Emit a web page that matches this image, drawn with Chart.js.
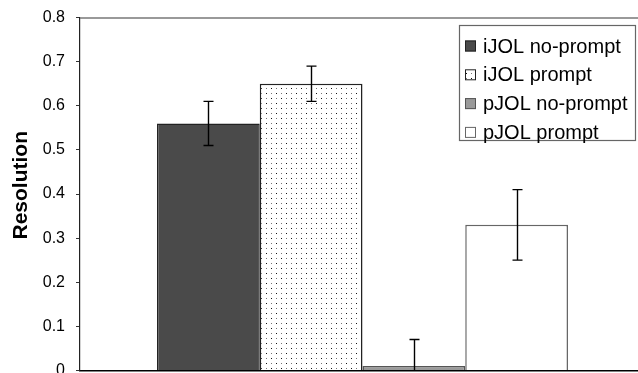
<!DOCTYPE html>
<html>
<head>
<meta charset="utf-8">
<script src="https://cdn.jsdelivr.net/npm/chart.js@4/dist/chart.umd.min.js"></script>
<style>
  html, body { margin: 0; padding: 0; background: #fff; overflow: hidden; }
  #wrap { position: absolute; left: 0; top: -3px; }
</style>
</head>
<body>
<div id="wrap"><canvas id="c" width="650" height="394"></canvas></div>
<script>
// Conditions and their mean resolution with error-bar half-widths
const conditions = ['iJOL no-prompt', 'iJOL prompt', 'pJOL no-prompt', 'pJOL prompt'];
const resolution = [0.56, 0.65, 0.01, 0.33];
const errors = [0.05, 0.04, 0.06, 0.08];
const yTickLabels = ['0', '0.1', '0.2', '0.3', '0.4', '0.5', '0.6', '0.7', '0.8'];

const FONT = '"Liberation Sans", Arial, Helvetica, sans-serif';

// Small dotted fill used for the "iJOL prompt" bar
function dotPattern() {
  const t = document.createElement('canvas');
  t.width = 10; t.height = 10;
  const g = t.getContext('2d');
  g.fillStyle = '#fff';
  g.fillRect(0, 0, 10, 10);
  g.fillStyle = '#111';
  g.fillRect(1, 1, 1, 1);
  g.fillRect(6, 6, 1, 1);
  g.fillStyle = '#777';
  g.fillRect(6, 1, 1, 1);
  g.fillRect(1, 6, 1, 1);
  return document.getElementById('c').getContext('2d').createPattern(t, 'repeat');
}

const fills = ['#4a4a4a', dotPattern(), '#9a9a9a', '#ffffff'];
const borders = ['#222222', '#222222', '#555555', '#666666'];

const datasets = conditions.map((name, i) => ({
  label: name,
  data: [resolution[i]],
  errors: [errors[i]],
  backgroundColor: fills[i],
  borderColor: borders[i],
  borderWidth: 1.5,
  borderSkipped: 'bottom',
  barPercentage: 1.0,
  categoryPercentage: 0.7274
}));

// Error bars with short caps, clipped to the plot area
const errorBars = {
  id: 'errorBars',
  afterDatasetsDraw(chart) {
    const ctx = chart.ctx, y = chart.scales.y, area = chart.chartArea;
    ctx.save();
    ctx.beginPath();
    ctx.rect(area.left, area.top, area.right - area.left, area.bottom - area.top);
    ctx.clip();
    ctx.strokeStyle = '#000';
    ctx.lineWidth = 1.4;
    chart.data.datasets.forEach((ds, i) => {
      const meta = chart.getDatasetMeta(i);
      meta.data.forEach((bar, j) => {
        const v = ds.data[j], e = ds.errors[j];
        const yt = y.getPixelForValue(v + e), yb = y.getPixelForValue(v - e);
        const x = Math.round(bar.x) + 0.5, cap = 5;
        ctx.beginPath();
        ctx.moveTo(x, yt); ctx.lineTo(x, yb);
        ctx.moveTo(x - cap, yt); ctx.lineTo(x + cap, yt);
        ctx.moveTo(x - cap, yb); ctx.lineTo(x + cap, yb);
        ctx.stroke();
      });
    });
    ctx.restore();
  }
};

// Top frame line of the plot area
const topFrame = {
  id: 'topFrame',
  afterDraw(chart) {
    const ctx = chart.ctx, a = chart.chartArea;
    ctx.save();
    ctx.strokeStyle = '#777';
    ctx.lineWidth = 1.5;
    ctx.beginPath();
    ctx.moveTo(a.left, a.top + 0.5);
    ctx.lineTo(chart.width, a.top + 0.5);
    ctx.stroke();
    ctx.restore();
  }
};

// Boxed legend in the upper right of the plot (positions follow the plot's top edge)
const boxLegend = {
  id: 'boxLegend',
  afterDraw(chart) {
    const ctx = chart.ctx;
    const top = chart.chartArea.top;
    const bx = 459.5, by = Math.round(top) + 7.5, bw = 176, bh = 115;
    ctx.save();
    ctx.fillStyle = '#fff';
    ctx.fillRect(bx, by, bw, bh);
    ctx.strokeStyle = '#666';
    ctx.lineWidth = 1.2;
    ctx.strokeRect(bx, by, bw, bh);
    ctx.font = '20px ' + FONT;
    ctx.textBaseline = 'middle';
    ctx.textAlign = 'left';
    chart.data.datasets.forEach((ds, i) => {
      const cy = by + 20.5 + i * 28.8;
      ctx.fillStyle = ds.backgroundColor;
      ctx.fillRect(465, cy - 5.5, 11, 11);
      ctx.strokeStyle = ds.borderColor;
      ctx.lineWidth = 1;
      ctx.strokeRect(465.5, cy - 5, 10, 10);
      ctx.fillStyle = '#000';
      ctx.fillText(ds.label, 483, cy + 1);
    });
    ctx.restore();
  }
};

new Chart(document.getElementById('c'), {
  type: 'bar',
  data: { labels: [''], datasets },
  options: {
    responsive: false,
    animation: false,
    layout: { padding: { left: 0, right: 5, top: 13, bottom: 9 } },
    plugins: { legend: { display: false }, tooltip: { enabled: false } },
    scales: {
      x: {
        grid: { display: false },
        ticks: { display: false },
        border: { display: true, color: '#000', width: 1.5 },
        afterFit(s) { s.height = 0; }
      },
      y: {
        min: 0,
        max: 0.8,
        ticks: {
          stepSize: 0.1,
          padding: 11,
          color: '#000',
          font: { family: FONT, size: 16 },
          callback: (v, i) => yTickLabels[i]
        },
        grid: { drawOnChartArea: false, drawTicks: true, tickLength: 4, color: '#333' },
        border: { display: true, color: '#222', width: 1.2 },
        title: {
          display: true,
          text: '   Resolution',
          color: '#000',
          font: { family: FONT, size: 21, weight: 'bold' },
          padding: { top: 9, bottom: 0 }
        },
        afterFit(s) { s.width = 80; }
      }
    }
  },
  plugins: [errorBars, topFrame, boxLegend]
});
</script>
</body>
</html>
